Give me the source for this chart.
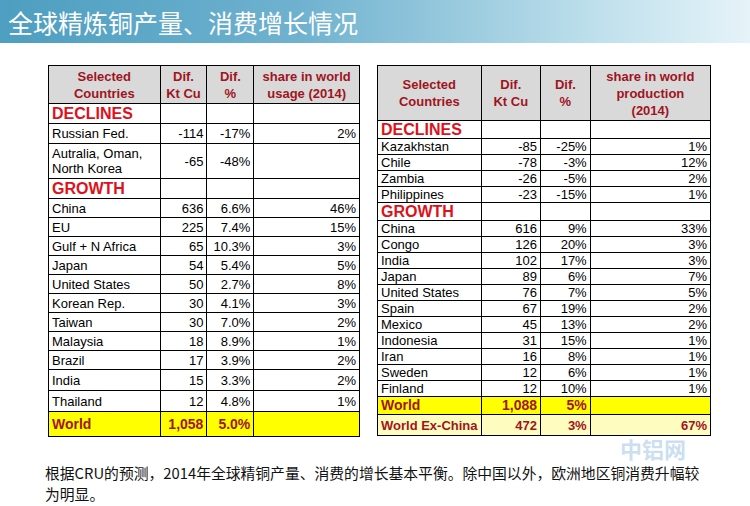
<!DOCTYPE html>
<html><head><meta charset="utf-8">
<script src="https://cdn.jsdelivr.net/npm/chart.js@4/dist/chart.umd.min.js"></script>
<style>
body{margin:0;width:750px;height:506px;background:#fff;font-family:"Liberation Sans",Arial,sans-serif;position:relative;overflow:hidden}
#band{position:absolute;left:0;top:0;width:750px;height:43px;background:linear-gradient(90deg,#4d9ec0 0%,#6fb2cf 40%,#bfe0ec 80%,#e6f3f8 100%)}
#title{position:absolute;left:8px;top:4px;color:#fff;font-family:"Noto Sans CJK SC";font-size:25px}
table{position:absolute;border-collapse:collapse;font-size:13px}
td{border:1.5px solid #000;padding:0 3px;white-space:nowrap;line-height:15px}
.h td{background:#d9d9d9;color:#a0141e;font-weight:bold;text-align:center;line-height:17px}
.sec td:first-child{color:#e0101a;font-weight:bold;font-size:16px}
.n{text-align:right}
.w td{background:#ffff00;color:#a0141e;font-weight:bold;font-size:14px}
.w2 td{background:#fffcc0;color:#a0141e;font-weight:bold}
#foot{position:absolute;left:45px;top:462px;font-family:"Noto Sans CJK SC";font-size:14.8px;line-height:21px;width:705px;color:#111}
#wm{position:absolute;left:620px;top:437px;font-family:"Noto Sans CJK SC";font-size:22px;font-weight:bold;line-height:22px;color:rgba(120,170,220,0.4)}
</style></head><body>
<div id="band"></div><div id="title">全球精炼铜产量、消费增长情况</div>
<table id="t1" style="left:48px;top:65px;width:312px"></table>
<table id="t2" style="left:377px;top:65px;width:334px"></table>
<div id="wm">中铝网</div>
<div id="foot">根据CRU的预测，2014年全球精铜产量、消费的增长基本平衡。除中国以外，欧洲地区铜消费升幅较<br>为明显。</div>
<script>
const usageDeclines=[["Russian Fed.","-114","-17%","2%"],["Autralia, Oman,<br>North Korea","-65","-48%",""]];
const usageGrowth=[["China","636","6.6%","46%"],["EU","225","7.4%","15%"],["Gulf + N Africa","65","10.3%","3%"],["Japan","54","5.4%","5%"],["United States","50","2.7%","8%"],["Korean Rep.","30","4.1%","3%"],["Taiwan","30","7.0%","2%"],["Malaysia","18","8.9%","1%"],["Brazil","17","3.9%","2%"],["India","15","3.3%","2%"],["Thailand","12","4.8%","1%"]];
const usageWorld=["World","1,058","5.0%",""];
const prodDeclines=[["Kazakhstan","-85","-25%","1%"],["Chile","-78","-3%","12%"],["Zambia","-26","-5%","2%"],["Philippines","-23","-15%","1%"]];
const prodGrowth=[["China","616","9%","33%"],["Congo","126","20%","3%"],["India","102","17%","3%"],["Japan","89","6%","7%"],["United States","76","7%","5%"],["Spain","67","19%","2%"],["Mexico","45","13%","2%"],["Indonesia","31","15%","1%"],["Iran","16","8%","1%"],["Sweden","12","6%","1%"],["Finland","12","10%","1%"]];
const prodWorld=["World","1,088","5%",""];
const prodExChina=["World Ex-China","472","3%","67%"];
function row(r,h,cls){return `<tr class="${cls||''}" style="height:${h}px"><td>${r[0]}</td><td class="n">${r[1]}</td><td class="n">${r[2]}</td><td class="n">${r[3]}</td></tr>`;}
let s=`<colgroup><col style="width:112px"><col style="width:47px"><col style="width:47px"><col style="width:106px"></colgroup>`;
s+=`<tr class="h" style="height:38px"><td>Selected<br>Countries</td><td>Dif.<br>Kt Cu</td><td>Dif.<br>%</td><td>share in world<br>usage (2014)</td></tr>`;
s+=row(["DECLINES","","",""],20,"sec");
s+=row(usageDeclines[0],20);s+=row(usageDeclines[1],35);
s+=row(["GROWTH","","",""],20,"sec");
usageGrowth.forEach((r,i)=>s+=row(r,i>=9?21:19));
s+=row(usageWorld,25,"w");
document.getElementById('t1').innerHTML=s;
let p=`<colgroup><col style="width:103px"><col style="width:60px"><col style="width:50px"><col style="width:121px"></colgroup>`;
p+=`<tr class="h" style="height:55px"><td>Selected<br>Countries</td><td>Dif.<br>Kt Cu</td><td>Dif.<br>%</td><td>share in world<br>production<br>(2014)</td></tr>`;
p+=row(["DECLINES","","",""],18,"sec");
prodDeclines.forEach(r=>p+=row(r,16));
p+=row(["GROWTH","","",""],18,"sec");
prodGrowth.forEach(r=>p+=row(r,16));
p+=row(prodWorld,18,"w");p+=row(prodExChina,21,"w2");
document.getElementById('t2').innerHTML=p;
</script></body></html>
